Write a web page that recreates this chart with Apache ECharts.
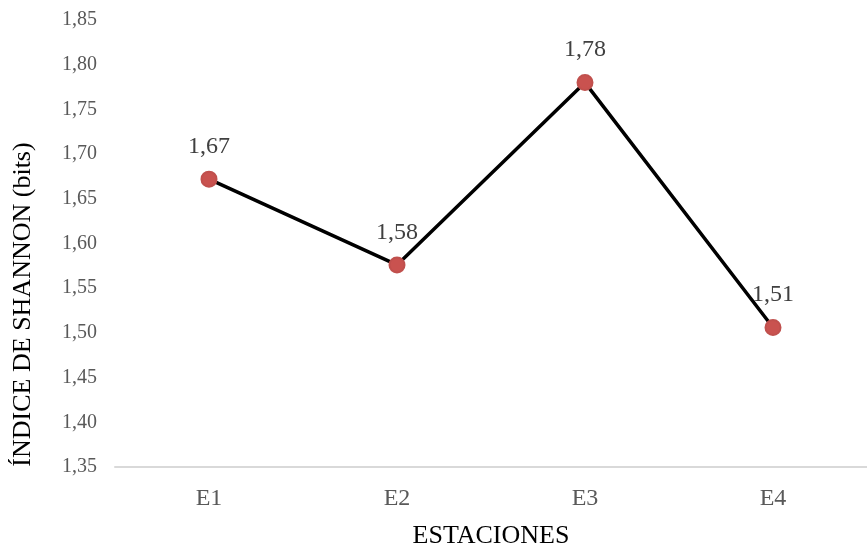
<!DOCTYPE html>
<html>
<head>
<meta charset="utf-8">
<script src="https://cdn.jsdelivr.net/npm/echarts@6/dist/echarts.min.js"></script>
<style>
html,body{margin:0;padding:0;background:#fff;}
#chart{width:867px;height:554px;}
</style>
</head>
<body>
<div id="chart"></div>
<script>
var categories = ['E1', 'E2', 'E3', 'E4'];
var shannonValues = [1.672, 1.576, 1.780, 1.506];
var yTickMin = 1.35;
var yTickMax = 1.85;
var yTickStep = 0.05;
var xTitle = 'ESTACIONES';
var yTitle = 'ÍNDICE DE SHANNON (bits)';

var fmt = function (v) { return Number(v).toFixed(2).replace('.', ','); };
var serif = '"Liberation Serif", "Times New Roman", serif';

var chart = echarts.init(document.getElementById('chart'), null, {renderer: 'canvas'});
chart.setOption({
  animation: false,
  backgroundColor: '#ffffff',
  grid: {left: 115, width: 764, top: 20, bottom: 81, containLabel: false},
  xAxis: {
    type: 'category',
    data: categories,
    boundaryGap: true,
    axisLine: {lineStyle: {color: '#d9d9d9', width: 2}},
    axisTick: {show: false},
    axisLabel: {color: '#595959', fontFamily: serif, fontSize: 24, margin: 20},
    name: xTitle,
    nameLocation: 'middle',
    nameGap: 56,
    nameTextStyle: {color: '#000000', fontFamily: serif, fontSize: 26}
  },
  yAxis: {
    type: 'value',
    min: yTickMin,
    max: yTickMax,
    interval: yTickStep,
    splitLine: {show: false},
    axisLine: {show: false},
    axisTick: {show: false},
    axisLabel: {color: '#595959', fontFamily: serif, fontSize: 20, margin: 18, formatter: fmt},
    name: yTitle,
    nameLocation: 'middle',
    nameGap: 79,
    nameRotate: 90,
    nameTextStyle: {color: '#000000', fontFamily: serif, fontSize: 26, padding: [0, 122, 0, 0]}
  },
  series: [{
    type: 'line',
    data: shannonValues,
    symbol: 'circle',
    symbolSize: 15,
    itemStyle: {color: '#c9524f', borderColor: '#c0504d', borderWidth: 2},
    lineStyle: {color: '#000000', width: 3.5},
    label: {
      show: true,
      position: 'top',
      distance: 12,
      color: '#404040',
      fontFamily: serif,
      fontSize: 24,
      formatter: function (p) { return fmt(p.value); }
    },
    z: 3
  }]
});
</script>
</body>
</html>
